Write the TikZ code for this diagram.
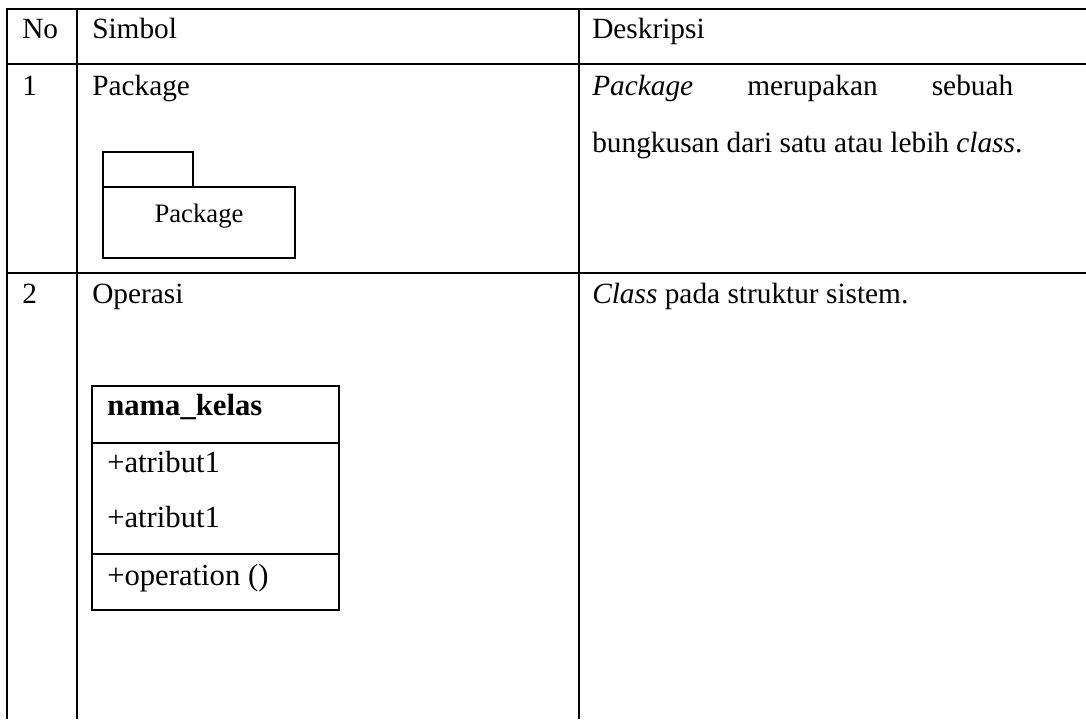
\documentclass[tikz,border=0pt]{standalone}
\usepackage{fontspec}
\setmainfont{Liberation Serif}
\usetikzlibrary{positioning}
\tikzset{
  grid line/.style={line width=1.5pt},  % table rules
  uml line/.style={line width=1.5pt},   % class box
  pkg line/.style={line width=0.9pt},   % package symbol
  cell text/.style={anchor=base west, inner sep=0pt,
    font=\fontsize{22}{26}\selectfont},
  uml text/.style={cell text, font=\fontsize{23}{27}\selectfont}
}

\begin{document}
\begin{tikzpicture}[x=0.75pt, y=-0.75pt]
    \useasboundingbox (0,0) rectangle (1086,719);
    % Table rules
    \foreach \y in {9,64,273}
      \draw[grid line] (6,\y) -- (1086,\y);
    \foreach \x in {7,77,579}
      \draw[grid line] (\x,9) -- (\x,719);

    % Header
    \node[cell text] (no) at (22,38) {No};
    \node[cell text] (simbol) at (92,38) {Simbol};
    \node[cell text] (deskripsi) at (592,38) {Deskripsi};

    % Row 1: package
    \node[cell text] (no1) at (22,95) {1};
    \node[cell text] (simbol1) at (92,95) {Package};
    \node[cell text, text width=315.75pt] (deskripsi1a) at (592,95)
      {\textit{Package}\hfill merupakan\hfill sebuah};
    \node[cell text] (deskripsi1b) at (592,152)
      {bungkusan dari satu atau lebih \textit{class}.};
    \draw[pkg line] (103,152) rectangle (193,187);
    \draw[pkg line] (103,187) rectangle (295,258);
    \node[anchor=base, inner sep=0pt, font=\fontsize{20}{24}\selectfont]
      (pkgname) at (199,222) {Package};

    % Row 2: class
    \node[cell text] (no2) at (22,303) {2};
    \node[cell text] (simbol2) at (92,303) {Operasi};
    \node[cell text] (deskripsi2) at (592,303)
      {\textit{Class} pada struktur sistem.};
    \draw[uml line] (92,386) rectangle (339,610);
    \draw[uml line] (92,443) -- (339,443);
    \draw[uml line] (92,554) -- (339,554);
    \node[uml text, font=\fontsize{23}{27}\selectfont\bfseries]
      (kelas) at (107,415) {nama\_kelas};
    \node[uml text] (atribut1) at (107,472) {+atribut1};
    \node[uml text] (atribut2) at (107,527) {+atribut1};
    \node[uml text] (operasi) at (107,585) {+operation ()};
\end{tikzpicture}
\end{document}
